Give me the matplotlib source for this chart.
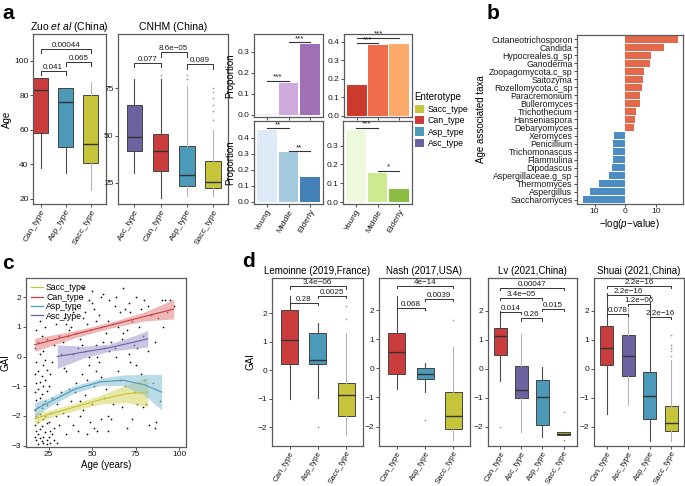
import matplotlib
matplotlib.use("Agg")
import matplotlib.pyplot as plt
from matplotlib.patches import Patch
from matplotlib.lines import Line2D
import numpy as np

plt.rcParams["font.family"] = ["Liberation Sans", "DejaVu Sans"]
plt.rcParams["mathtext.fontset"] = "custom"
plt.rcParams["mathtext.rm"] = "Liberation Sans"
plt.rcParams["mathtext.it"] = "Liberation Sans:italic"

W, H = 685, 486
COL = {"Sacc_type": "#C6C43A", "Can_type": "#CB3C3C", "Asp_type": "#4B9AB9", "Asc_type": "#6B63A0"}
DARK, LIGHT = "#4a4a4a", "#b5b5b5"

# ---- panel a: boxplots (whislo, q1, med, q3, whishi)
ZUO_CATS = ["Can_type", "Asp_type", "Sacc_type"]
ZUO_STATS = [(38, 58, 83, 90, 90), (35, 50, 76, 84.5, 84.5), (25, 41, 52, 80, 88)]
ZUO_OUT = [[], [], []]
ZUO_WHISK = [DARK, DARK, LIGHT]
ZUO_BRACKETS = [(1, 2, 94.2, "0.041"), (2, 3, 99.6, "0.065"), (1, 3, 106.8, "0.00044")]

CNHM_CATS = ["Asc_type", "Can_type", "Asp_type", "Sacc_type"]
CNHM_STATS = [(30, 42, 49, 66, 80), (17, 31, 42, 51, 80), (18, 23, 29, 44.5, 76), (18, 22, 25.5, 36.5, 53)]
CNHM_OUT = [[], [82], [80, 82], [58, 63, 66, 70, 73, 75]]
CNHM_WHISK = [DARK, DARK, LIGHT, LIGHT]
CNHM_BRACKETS = [(1, 2, 88.6, "0.077"), (3, 4, 88.0, "0.089"), (2, 3, 94.0, "8.6e\u221205")]

# ---- panel a: proportions by age group
AGE_GROUPS = ["Young", "Middle", "Elderly"]
ASC_PROP = [0.005, 0.15, 0.335]
CAN_PROP = [0.165, 0.38, 0.385]
ASP_PROP = [0.45, 0.31, 0.155]
SACC_PROP = [0.38, 0.155, 0.07]
ASC_SIG = [(1, 2, 0.163, "***"), (2, 3, 0.344, "***")]
CAN_SIG = [(1, 2, 0.391, "***"), (1, 3, 0.422, "***")]
ASP_SIG = [(1, 2, 0.46, "**"), (2, 3, 0.317, "**")]
SACC_SIG = [(1, 2, 0.394, "***"), (2, 3, 0.166, "*")]

# ---- panel b
TAXA = ["Cutaneotrichosporon", "Candida", "Hypocreales.g_sp", "Ganoderma", "Zoopagomycota.c_sp",
        "Saitozyma", "Rozellomycota.c_sp", "Paracremonium", "Bulleromyces", "Trichothecium",
        "Hanseniaspora", "Debaryomyces", "Xeromyces", "Penicillium", "Trichomonascus", "Flammulina",
        "Dipodascus", "Aspergillaceae.g_sp", "Thermomyces", "Aspergillus", "Saccharomyces"]
TAXA_LOGP = [17.3, 12.7, 8.5, 8.2, 6.2, 5.8, 5.3, 4.9, 4.9, 3.5, 3.2, 3.0,
             -3.7, -3.9, -4.1, -4.1, -4.3, -5.4, -8.4, -11.6, -13.9]

# ---- panel c: scatter (age, GAI)
AGE = [17, 18, 19, 20, 21, 22, 18, 20, 23, 24, 17, 19, 21, 22, 24, 18, 20, 23, 17, 19, 21, 22, 24, 18, 20,
       23, 17, 19, 21, 22, 24, 18, 20, 23, 17, 19, 21, 22, 24, 18, 20, 23, 17, 19, 21, 22, 24, 18, 20, 23,
       25, 26, 27, 25, 26, 27, 28, 29, 25, 26, 27, 28, 29, 30, 30, 28, 26, 24, 22, 19,
       31, 32, 33, 34, 35, 36, 37, 38, 39, 40, 41, 42, 43, 44, 45, 46, 47, 48, 49, 50, 51, 52, 53, 54, 55,
       56, 57, 58, 59, 60, 32, 34, 36, 38, 40, 42, 44, 46, 48, 50, 52, 54, 56, 58, 60,
       33, 35, 37, 39, 41, 43, 45, 47, 49, 51, 53, 55, 57, 59,
       31, 35, 39, 43, 47, 51, 55, 59, 45, 50, 55, 48, 52, 44, 46,
       61, 62, 63, 64, 65, 66, 67, 68, 69, 70, 71, 72, 73, 74, 75, 76, 77, 78, 79, 80, 81, 82, 83, 84, 85,
       86, 87, 88, 90, 91, 92, 89, 95, 97, 93,
       62, 64, 66, 68, 70, 72, 74, 76, 78, 80, 63, 67, 71, 75, 79, 82, 86, 61, 65, 69, 73]
GAI = [-2.7, -2.8, -2.6, -2.75, -2.85, -2.7, -2.5, -2.45, -2.55, -2.8, -2.3, -2.2, -2.35, -2.1, -2.25,
       -2.0, -1.95, -2.0, -1.8, -1.7, -1.75, -1.6, -1.65, -1.45, -1.4, -1.5, -1.2, -1.1, -1.25, -1.0,
       -1.15, -0.9, -0.85, -0.8, -0.6, -0.5, -0.65, -0.3, -0.45, -0.2, 0.1, -0.1, 0.3, 0.5, 0.7, 0.2,
       0.6, 0.9, 1.2, 1.0,
       -2.7, -2.9, -2.6, -2.2, -1.9, -1.4, -2.4, -2.0, -1.0, -0.6, -0.2, 0.4, 1.1, -1.6, -2.9, -2.8,
       -2.5, -2.95, -2.9, -2.95,
       -2.3, -1.2, 0.5, 1.3, -0.5, -2.0, 0.9, -1.5, 0.1, 1.6, -0.9, -2.5, 0.6, 2.0, -1.8, 0.2, 1.1,
       -0.3, -2.2, 1.8, -1.0, 0.4, -2.5, 1.4, -0.7, 2.1, -1.4, 0.8, -2.0, 1.9,
       0.1, -0.4, 0.7, 1.0, -1.2, 0.3, -0.6, 1.5, 0.0, -1.6, 1.2, -0.2, 0.5, -1.1, 0.2,
       -1.9, 1.1, -1.1, 1.5, 0.8, -1.5, 1.3, -0.8, 0.9, 1.6, 0.0, 1.0, 0.3, 1.2,
       0.7, -2.6, -2.3, -2.0, -2.6, -2.4, -2.1, -2.5, 2.3, 2.2, 2.0, 1.9, -0.5, 0.4, -1.3,
       -2.1, 1.1, 0.3, 2.0, -0.5, 1.5, 0.6, 2.3, -1.0, 0.9, 1.8, -0.2, 1.2, 0.4, 2.0, -1.6, 1.0, -0.6,
       0.7, 1.9, -1.6, 0.2, -2.3, 1.4, -0.9, 0.5, -2.2, 1.3, 1.9, 1.0, 1.9, -1.5, 1.9, 1.7, 1.5,
       -1.6, 0.0, -0.8, 0.8, -2.4, 1.5, -1.2, 0.3, 1.6, -0.8, 1.7, -1.7, 0.1, -0.3, -1.7, 1.7, -2.4,
       0.5, 1.0, 1.6, -2.1]

# fitted trends: (age, fit, half band width)
FITS = {
    "Sacc_type": ([17, 25, 40, 55, 70, 82], [-2.1, -1.95, -1.7, -1.45, -1.25, -1.2], [0.2, 0.12, 0.12, 0.15, 0.3, 0.5]),
    "Can_type": ([17, 40, 60, 80, 97], [0.4, 0.75, 1.05, 1.35, 1.6], [0.22, 0.12, 0.1, 0.15, 0.33]),
    "Asp_type": ([17, 25, 40, 55, 68, 80, 90], [-1.8, -1.55, -1.1, -0.85, -0.8, -0.95, -1.2],
                 [0.25, 0.15, 0.12, 0.12, 0.18, 0.35, 0.6]),
    "Asc_type": ([30, 45, 60, 75, 82], [0.0, 0.15, 0.3, 0.5, 0.6], [0.4, 0.2, 0.12, 0.22, 0.28]),
}

# ---- panel d
LEM_CATS = ["Can_type", "Asp_type", "Sacc_type"]
LEM_STATS = [(-1.0, 0.22, 1.07, 2.1, 2.6), (-0.97, 0.22, 0.37, 1.32, 1.67), (-2.28, -1.6, -0.88, -0.43, 1.3)]
LEM_OUT = [[], [-2.0], [1.8, 2.25]]
LEM_WHISK = [DARK, DARK, LIGHT]
LEM_BRACKETS = [(1, 2, 2.37, "0.28"), (2, 3, 2.6, "0.0025"), (1, 3, 2.94, "3.4e\u221206")]

NASH_CATS = ["Can_type", "Asp_type", "Sacc_type"]
NASH_STATS = [(-0.72, -0.18, 0.55, 1.22, 2.5), (-0.82, -0.35, -0.18, 0.03, 0.2), (-2.48, -2.08, -1.63, -0.8, 0.72)]
NASH_OUT = [[], [2.0, -1.77], [1.65]]
NASH_WHISK = [DARK, DARK, LIGHT]
NASH_BRACKETS = [(1, 2, 2.09, "0.068"), (2, 3, 2.4, "0.0039"), (1, 3, 2.84, "4e\u221214")]

LV_CATS = ["Can_type", "Asc_type", "Asp_type", "Sacc_type"]
LV_STATS = [(-0.43, 0.47, 1.12, 1.4, 2.0), (-2.2, -1.0, -0.73, 0.08, 1.2), (-2.35, -1.93, -0.97, -0.38, 0.05),
            (-2.3, -2.3, -2.25, -2.2, -2.2)]
LV_OUT = [[-2.0], [], [], [-1.5, -2.45]]
LV_WHISK = [DARK, LIGHT, DARK, LIGHT]
LV_BRACKETS = [(2, 3, 1.74, "0.26"), (1, 2, 1.97, "0.014"), (3, 4, 2.07, "0.015"),
               (1, 3, 2.44, "3.4e\u221205"), (1, 4, 2.8, "0.00047")]

SHUAI_CATS = ["Can_type", "Asc_type", "Asp_type", "Sacc_type"]
SHUAI_STATS = [(-1.55, 0.13, 0.72, 1.48, 2.6), (-1.25, -0.25, 0.45, 1.17, 2.1), (-2.5, -1.75, -0.95, -0.12, 2.3),
               (-2.5, -2.15, -1.87, -1.3, 0.3)]
SHUAI_OUT = [[], [], [], [0.45, 0.6, 0.72, 0.8, 1.15]]
SHUAI_WHISK = [DARK, LIGHT, DARK, LIGHT]
SHUAI_BRACKETS = [(3, 4, 1.78, "2.2e\u221216"), (1, 2, 1.89, "0.078"), (2, 3, 2.23, "1.2e\u221206"),
                  (1, 3, 2.54, "2.2e\u221216"), (1, 4, 2.85, "2.2e\u221216")]


def px_axes(fig, x0, y0, x1, y1):
    return fig.add_axes([x0 / W, 1 - y1 / H, (x1 - x0) / W, (y1 - y0) / H])


def style(ax):
    for s in ax.spines.values():
        s.set_color("#5a5a5a")
        s.set_linewidth(0.9)
    ax.tick_params(length=2, width=0.6, color="#333333", labelsize=6, pad=1.2, labelcolor="#1a1a1a")


def boxpanel(ax, cats, stats, outs, whisk, brackets, ylim, yticks, xlim, title, tip, tsize=7.5):
    data = [dict(whislo=lo, q1=q1, med=m, q3=q3, whishi=hi, fliers=fl, label=c)
            for c, (lo, q1, m, q3, hi), fl in zip(cats, stats, outs)]
    parts = ax.bxp(data, positions=range(1, len(cats) + 1), widths=0.6, patch_artist=True, showcaps=False,
                   flierprops=dict(marker="o", markersize=1.3, markerfacecolor="#a0a0a0",
                                   markeredgecolor="none"),
                   medianprops=dict(color="#333333", lw=1.0),
                   boxprops=dict(edgecolor="#444444", lw=0.7),
                   whiskerprops=dict(lw=0.8))
    for box, c in zip(parts["boxes"], cats):
        box.set_facecolor(COL[c])
    for k, w in enumerate(parts["whiskers"]):
        w.set_color(whisk[k // 2])
    for i, j, y, lab in brackets:
        ax.plot([i, i, j, j], [y - tip, y, y, y - tip], color="#333333", lw=0.7)
        ax.text((i + j) / 2, y, lab, ha="center", va="bottom", fontsize=5.8, color="#1a1a1a")
    ax.set_xlim(*xlim)
    ax.set_ylim(*ylim)
    ax.set_yticks(yticks)
    ax.set_xticks(range(1, len(cats) + 1))
    ax.set_xticklabels(cats, rotation=60, ha="right", rotation_mode="anchor")
    ax.set_title(title, fontsize=tsize, pad=3)
    style(ax)


def proppanel(ax, vals, colors, sigs, ylim, yticks, show_x, ylabel):
    x = np.arange(1, 4)
    ax.bar(x, vals, width=0.92, color=colors)
    for i, j, y, lab in sigs:
        ax.plot([i, j], [y, y], color="#333333", lw=0.8)
        ax.text((i + j) / 2, y, lab, ha="center", va="bottom", fontsize=5.8, color="#1a1a1a")
    ax.set_xlim(0.4, 3.6)
    ax.set_ylim(*ylim)
    ax.set_yticks(yticks)
    ax.set_yticklabels([f"{t:.1f}" for t in yticks])
    ax.set_xticks(x)
    if show_x:
        ax.set_xticklabels(AGE_GROUPS, rotation=60, ha="right", rotation_mode="anchor")
    else:
        ax.tick_params(axis="x", length=0, labelbottom=False)
    if ylabel:
        ax.set_ylabel("Proportion", fontsize=7, labelpad=2)
    style(ax)


def main():
    fig = plt.figure(figsize=(W / 100, H / 100), dpi=100)

    # panel a
    ax = px_axes(fig, 33, 34, 106, 204)
    boxpanel(ax, ZUO_CATS, ZUO_STATS, ZUO_OUT, ZUO_WHISK, ZUO_BRACKETS, (17, 115.6), [20, 40, 60, 80, 100],
             (0.7, 3.6), r"Zuo $\it{et\ al}$ (China)", 2.5)
    ax.set_ylabel("Age", fontsize=7, labelpad=2)
    ax = px_axes(fig, 118, 34, 228, 204)
    boxpanel(ax, CNHM_CATS, CNHM_STATS, CNHM_OUT, CNHM_WHISK, CNHM_BRACKETS, (13.7, 103.8), [25, 50, 75],
             (0.37, 4.58), "CNHM (China)", 2.5)

    ax = px_axes(fig, 254, 34, 323, 117)
    proppanel(ax, ASC_PROP, ["#EFE4F3", "#CFAADF", "#A171B7"], ASC_SIG, (-0.01, 0.384),
              [0.0, 0.1, 0.2, 0.3], False, True)
    ax = px_axes(fig, 344, 34, 412, 117)
    proppanel(ax, CAN_PROP, ["#CC3A2E", "#EF6D4D", "#FBAA69"], CAN_SIG, (-0.008, 0.441),
              [0.0, 0.1, 0.2, 0.3, 0.4], False, False)
    ax = px_axes(fig, 254, 121, 323, 204)
    proppanel(ax, ASP_PROP, ["#DEEAF6", "#A3C9DF", "#4380B5"], ASP_SIG, (-0.014, 0.504),
              [0.0, 0.1, 0.2, 0.3, 0.4], True, True)
    ax = px_axes(fig, 343, 121, 412, 204)
    proppanel(ax, SACC_PROP, ["#EEF8DA", "#CDEA91", "#8BBD45"], SACC_SIG, (-0.01, 0.43),
              [0.0, 0.1, 0.2, 0.3], True, False)

    handles = [Patch(facecolor=COL[c], edgecolor="none") for c in COL]
    fig.legend(handles, list(COL), title="Enterotype", loc="upper left", bbox_to_anchor=(411 / W, 1 - 89 / H),
               frameon=False, handlelength=1.1, handleheight=1.1, handletextpad=0.4, labelspacing=0.25,
               fontsize=6.3, title_fontsize=7, alignment="left", borderaxespad=0)

    # panel b
    ax = px_axes(fig, 577, 35, 683, 204)
    y = np.arange(len(TAXA))
    ax.barh(y, TAXA_LOGP, height=0.9, color=["#E4694A" if v > 0 else "#4D8DC3" for v in TAXA_LOGP])
    ax.set_ylim(len(TAXA) - 0.45, -0.55)
    ax.set_yticks(y)
    ax.set_yticklabels(TAXA, fontsize=6.3)
    ax.set_xlim(-15.7, 18.8)
    ax.set_xticks([-10, 0, 10])
    ax.set_xticklabels(["10", "0", "10"])
    ax.set_xlabel("\u2212log($\\it{p}$\u2212value)", fontsize=7, labelpad=1)
    ax.set_ylabel("Age associated taxa", fontsize=7, labelpad=2)
    style(ax)
    ax.tick_params(axis="y", labelsize=6.3)

    # panel c
    ax = px_axes(fig, 26, 278, 186, 447)
    ax.scatter(AGE, GAI, s=1.6, color="#111111", lw=0, zorder=1)
    fills = {"Sacc_type": "#D9D86A", "Can_type": "#E58A8A", "Asp_type": "#8EC3D6", "Asc_type": "#A59FD0"}
    for name, (ax_x, fit, hw) in FITS.items():
        fx, fy, fh = np.array(ax_x), np.array(fit), np.array(hw)
        ax.fill_between(fx, fy - fh, fy + fh, color=fills[name], alpha=0.6, lw=0, zorder=2)
        ax.plot(fx, fy, color=COL[name], lw=0.8, zorder=3)
    ax.legend([Line2D([], [], color=COL[c], lw=0.9) for c in COL], list(COL), loc="upper left",
              frameon=False, fontsize=6.3, handlelength=1.3, labelspacing=0.05, handletextpad=0.4,
              borderaxespad=0.2)
    ax.set_xlim(12, 104)
    ax.set_ylim(-3.05, 2.65)
    ax.set_xticks([25, 50, 75, 100])
    ax.set_yticks([-3, -2, -1, 0, 1, 2])
    ax.set_yticklabels(["\u22123", "\u22122", "\u22121", "0", "1", "2"])
    ax.set_xlabel("Age (years)", fontsize=7, labelpad=1)
    ax.set_ylabel("GAI", fontsize=7, labelpad=1)
    style(ax)

    # panel d
    gai_ticks = [-2, -1, 0, 1, 2]
    gai_lab = ["\u22122", "\u22121", "0", "1", "2"]
    d_axes = []
    ax = px_axes(fig, 272, 278, 363, 446)
    boxpanel(ax, LEM_CATS, LEM_STATS, LEM_OUT, LEM_WHISK, LEM_BRACKETS, (-2.65, 3.23), gai_ticks,
             (0.38, 3.6), "Lemoinne (2019,France)", 0.08, 7)
    ax.set_ylabel("GAI", fontsize=7, labelpad=2)
    d_axes.append(ax)
    ax = px_axes(fig, 379, 278, 470, 446)
    boxpanel(ax, NASH_CATS, NASH_STATS, NASH_OUT, NASH_WHISK, NASH_BRACKETS, (-2.67, 3.11), gai_ticks,
             (0.37, 3.59), "Nash (2017,USA)", 0.08, 7)
    d_axes.append(ax)
    ax = px_axes(fig, 488, 278, 577, 446)
    boxpanel(ax, LV_CATS, LV_STATS, LV_OUT, LV_WHISK, LV_BRACKETS, (-2.67, 3.13), gai_ticks,
             (0.42, 4.64), "Lv (2021,China)", 0.08, 7)
    d_axes.append(ax)
    ax = px_axes(fig, 594, 278, 684, 446)
    boxpanel(ax, SHUAI_CATS, SHUAI_STATS, SHUAI_OUT, SHUAI_WHISK, SHUAI_BRACKETS, (-2.67, 3.13), gai_ticks,
             (0.4, 4.6), "Shuai (2021,China)", 0.08, 7)
    d_axes.append(ax)
    for ax in d_axes:
        ax.set_yticklabels(gai_lab)
        ax.tick_params(axis="x", labelsize=5.7, pad=0.8)

    for lab, x, y in (("a", 2, 4), ("b", 487, 4), ("c", 2, 254), ("d", 242, 252)):
        fig.text(x / W, 1 - y / H, lab, fontsize=15, fontweight="bold", va="top", ha="left")

    fig.savefig("out.png", dpi=100)
    plt.close(fig)


if __name__ == "__main__":
    main()
